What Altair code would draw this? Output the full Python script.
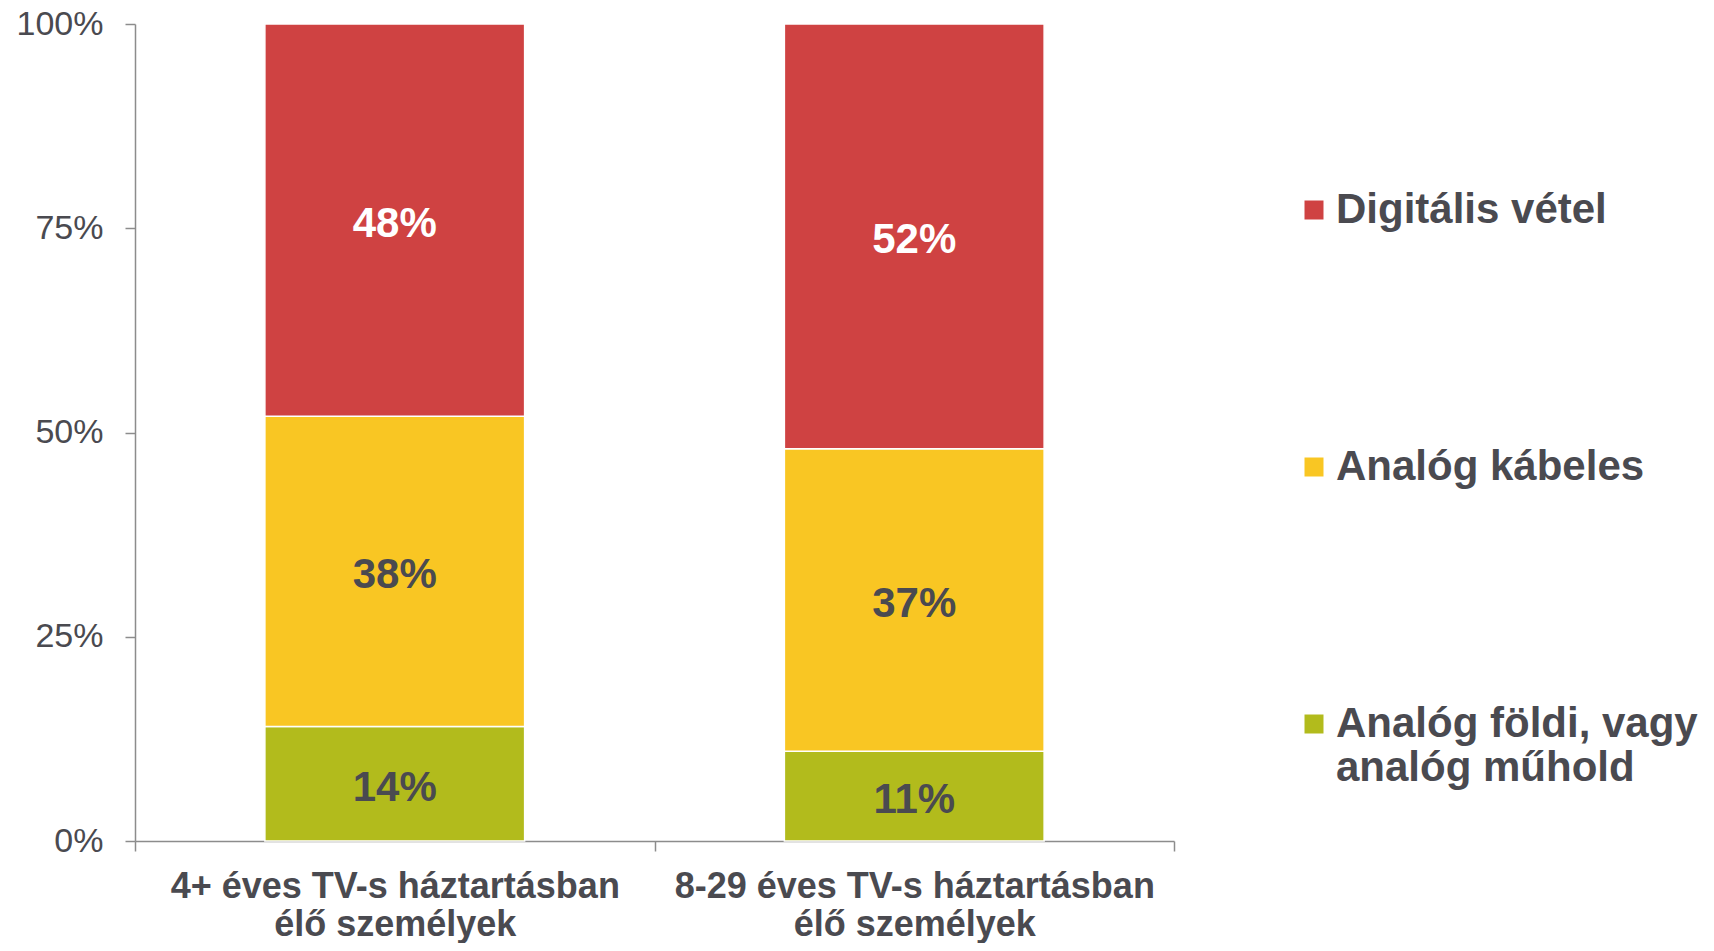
import altair as alt
import pandas as pd

# categories (x), series, values (percent)
groups = ["4+ éves TV-s háztartásban\nélő személyek", "8-29 éves TV-s háztartásban\nélő személyek"]
series = ["Digitális vétel", "Analóg kábeles", "Analóg földi, vagy\nanalóg műhold"]
digitalis = [48, 52]
kabeles = [38, 37]
foldi = [14, 11]
y_ticks = [0, 0.25, 0.5, 0.75, 1]

colors = ["#CF4242", "#F9C623", "#B2BB1C"]
TXT = "#4a4a50"
GRAY = "#8c8c8c"
FONT = "Liberation Sans"

rows = []
stack_order = [(series[2], foldi), (series[1], kabeles), (series[0], digitalis)]
for i, g in enumerate(groups):
    for rank, (s, vals) in enumerate(stack_order):
        rows.append({"group": g, "series": s, "value": vals[i] / 100, "rank": rank})
df = pd.DataFrame(rows)

base = alt.Chart(df).transform_stack(
    stack="value",
    groupby=["group"],
    sort=[alt.SortField("rank", order="ascending")],
    as_=["v0", "v1"],
).transform_calculate(
    mid="(datum.v0 + datum.v1) / 2",
    label="format(datum.value, '.0%')",
)

x_enc = alt.X(
    "group:N",
    sort=groups,
    scale=alt.Scale(paddingInner=0, paddingOuter=0),
    axis=alt.Axis(
        title=None,
        labelAngle=0,
        labelExpr="split(datum.label, '\\n')",
        tickBand="extent",
        tickSize=10,
        tickColor=GRAY,
        tickWidth=1.5,
        domainColor=GRAY,
        domainWidth=1.5,
        labelFont=FONT,
        labelFontSize=36,
        labelFontWeight="bold",
        labelColor=TXT,
        labelPadding=18,
        labelLineHeight=38,
        labelLimit=700,
    ),
)

bars = base.mark_bar(stroke="white", strokeWidth=1.5, width=alt.RelativeBandSize(0.5)).encode(
    x=x_enc,
    y=alt.Y(
        "v0:Q",
        scale=alt.Scale(domain=[0, 1]),
        axis=alt.Axis(
            title=None,
            values=y_ticks,
            format=".0%",
            grid=False,
            domainColor=GRAY,
            domainWidth=1.5,
            tickColor=GRAY,
            tickWidth=1.5,
            tickSize=10,
            labelFont=FONT,
            labelFontSize=34,
            labelColor=TXT,
            labelPadding=22,
            labelFlush=False,
        ),
    ),
    y2="v1:Q",
    color=alt.Color(
        "series:N",
        scale=alt.Scale(domain=series, range=colors),
        legend=alt.Legend(
            title=None,
            orient="none",
            legendX=1158,
            legendY=165,
            direction="vertical",
            symbolType="square",
            symbolSize=361,
            symbolStrokeWidth=0,
            symbolOpacity=1,
            labelFont=FONT,
            labelFontSize=42,
            labelFontWeight="bold",
            labelColor=TXT,
            labelOffset=1,
            labelLimit=700,
            rowPadding=215,
            padding=0,
            labelExpr="split(datum.label, '\\n')",
        ),
    ),
)

text = base.mark_text(font=FONT, fontSize=42, fontWeight="bold", baseline="middle", dy=4).encode(
    x=alt.X("group:N", sort=groups),
    y=alt.Y("mid:Q"),
    text="label:N",
    color=alt.condition(alt.datum.series == series[0], alt.value("white"), alt.value(TXT)),
)

chart = alt.layer(bars, text).properties(
    width=1039,
    height=817,
    autosize=alt.AutoSizeParams(type="none"),
    padding={"left": 127, "top": 16, "right": 532, "bottom": 102},
).configure_view(stroke=None)

chart.save("out.html", embed_options={"renderer": "svg", "actions": False})
